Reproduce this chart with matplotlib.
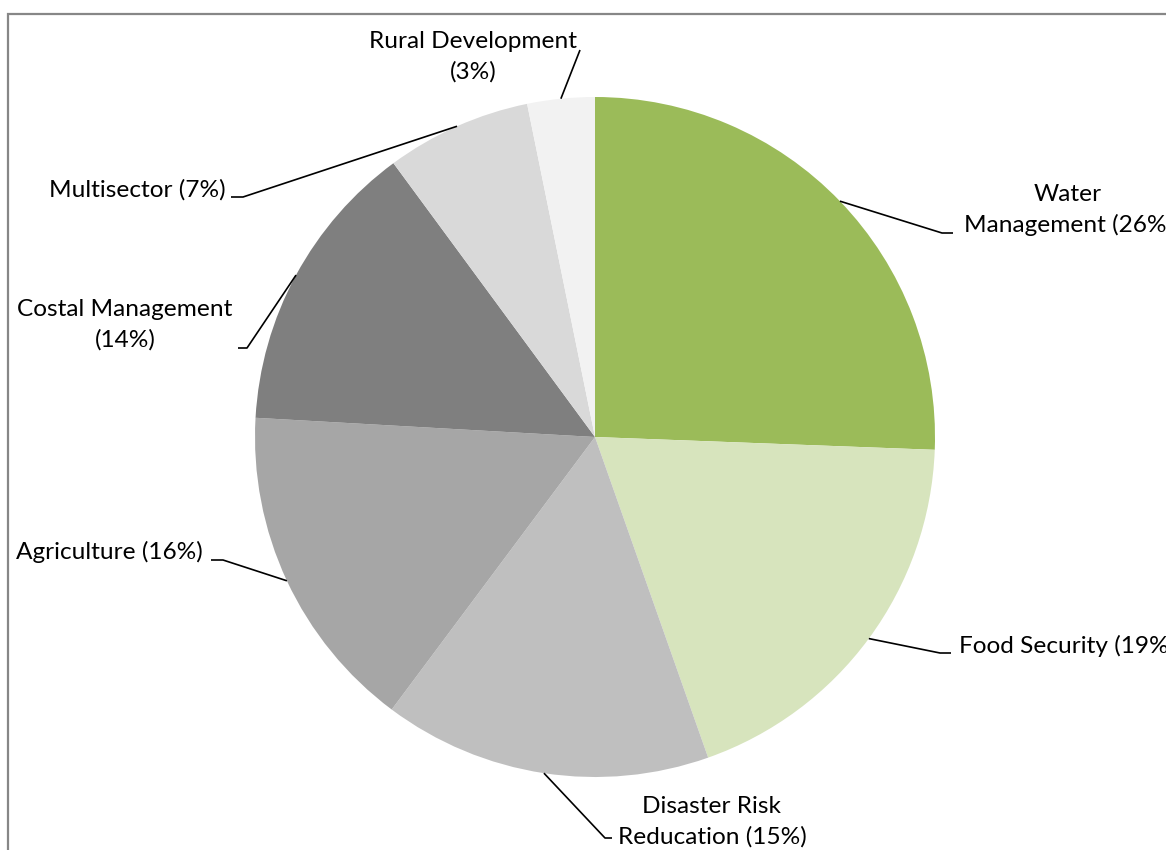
import numpy as np
import matplotlib
matplotlib.use("Agg")
import matplotlib.pyplot as plt

# ---- data ----
categories = ["Water\nManagement (26%)", "Food Security (19%)", "Disaster Risk\nReducation (15%)",
              "Agriculture (16%)", "Costal Management\n(14%)", "Multisector (7%)",
              "Rural Development\n(3%)"]
shares = [25.6, 19.0, 15.6, 15.7, 14.0, 6.9, 3.2]
colors = ["#9BBB59", "#D7E4BD", "#BFBFBF", "#A6A6A6", "#7F7F7F", "#D9D9D9", "#F2F2F2"]

W, H = 1166, 850
plt.rcParams['font.family'] = ['Lato', 'DejaVu Sans']
fig = plt.figure(figsize=(W / 100, H / 100), dpi=100)
ax = fig.add_axes([0, 0, 1, 1])
ax.set_xlim(0, W)
ax.set_ylim(0, H)
ax.set_aspect('equal')
ax.axis('off')

def Y(y):
    return H - y

cx, cy, R = 595, Y(437), 340
wedges, _ = ax.pie(shares, colors=colors, startangle=90, counterclock=False,
                   center=(cx, cy), radius=R, frame=True,
                   wedgeprops=dict(linewidth=0))
ax.set_xlim(0, W)
ax.set_ylim(0, H)
ax.axis('off')

# frame (chart area border)
ax.plot([8, 8, W + 5], [Y(H + 5), Y(14), Y(14)], color="#878787", lw=1.6,
        solid_joinstyle='miter', clip_on=False)

# label layout: (elbow x, elbow y, end x, text x, text y, ha)
layout = [
    (942, 233, 953, 1068, 210, 'center'),
    (940, 653, 951, 959, 646, 'left'),
    (605, 838, 612, 712, 822, 'center'),
    (223, 560, 211, 203, 552, 'right'),
    (247, 348, 238, 125, 325, 'center'),
    (243, 197, 231, 226, 190, 'right'),
    (580, 50, 580, 473, 57, 'center'),
]

fs = 17.6
for w, lab, (ex, ey, endx, tx, ty, ha) in zip(wedges, categories, layout):
    th = np.deg2rad((w.theta1 + w.theta2) / 2)
    px = cx + R * np.cos(th)
    py = cy + R * np.sin(th)
    ax.plot([px, ex, endx], [py, Y(ey), Y(ey)], color="black", lw=1.2,
            solid_capstyle='butt')
    ax.text(tx, Y(ty), lab, ha=ha, va='center', fontsize=fs, color="black",
            multialignment='center', linespacing=1.5)

fig.savefig("out.png", dpi=100)
